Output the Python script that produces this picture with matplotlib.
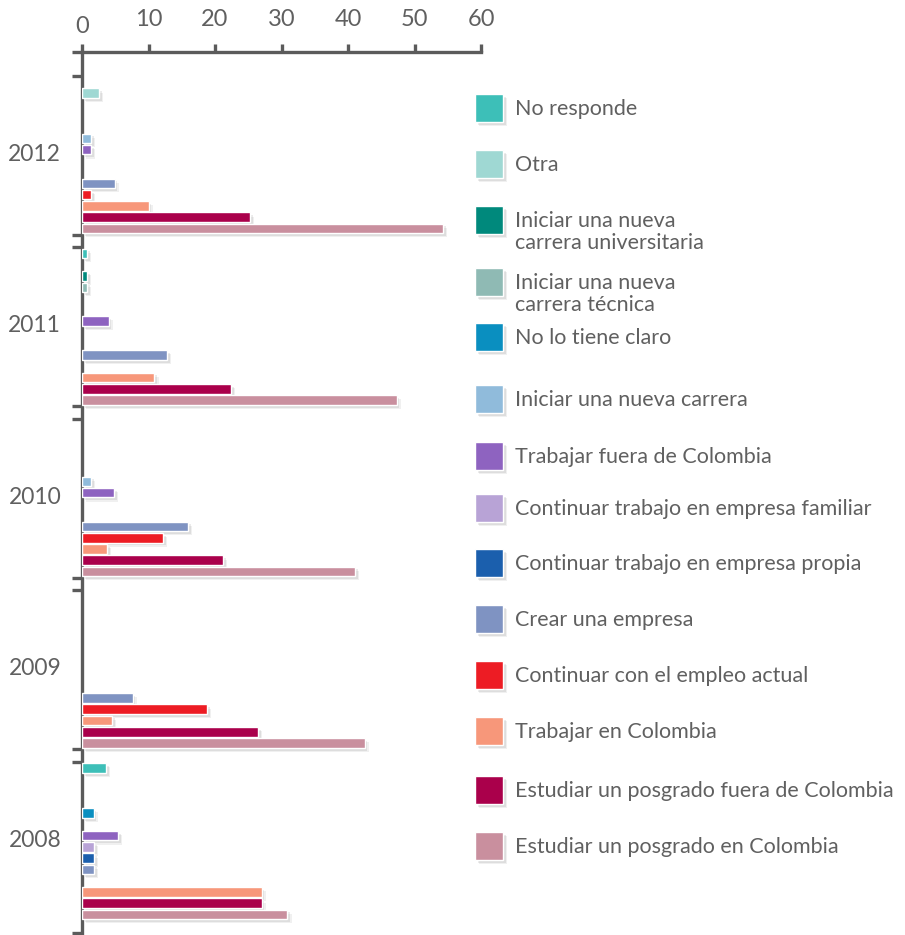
import numpy as np
import matplotlib
matplotlib.use('Agg')
import matplotlib.pyplot as plt
import matplotlib.patheffects as pe
from matplotlib.patches import Rectangle
from matplotlib.transforms import ScaledTranslation

plt.rcParams['font.family'] = ['Lato', 'DejaVu Sans']

# response categories, top to bottom inside each year block
categories = [
    'No responde',
    'Otra',
    'Iniciar una nueva\ncarrera universitaria',
    'Iniciar una nueva\ncarrera técnica',
    'No lo tiene claro',
    'Iniciar una nueva carrera',
    'Trabajar fuera de Colombia',
    'Continuar trabajo en empresa familiar',
    'Continuar trabajo en empresa propia',
    'Crear una empresa',
    'Continuar con el empleo actual',
    'Trabajar en Colombia',
    'Estudiar un posgrado fuera de Colombia',
    'Estudiar un posgrado en Colombia',
]
colors = ['#3dbfb8', '#9fd8d3', '#00897c', '#8fbab4', '#0a8fc0', '#90bbdb',
          '#8e63c0', '#b8a3d6', '#1b5fad', '#7f93c2', '#ed1c24', '#f7977a',
          '#aa004b', '#c98f9e']

years = ['2012', '2011', '2010', '2009', '2008']
v2012 = [0, 2.6, 0, 0, 0, 1.4, 1.4, 0, 0, 4.9, 1.4, 10.0, 25.3, 54.3]
v2011 = [0.8, 0, 0.8, 0.8, 0, 0, 4.0, 0, 0, 12.8, 0, 10.9, 22.4, 47.3]
v2010 = [0, 0, 0, 0, 0, 1.4, 4.8, 0, 0, 15.9, 12.2, 3.8, 21.2, 41.1]
v2009 = [0, 0, 0, 0, 0, 0, 0, 0, 0, 7.6, 18.8, 4.5, 26.5, 42.5]
v2008 = [3.6, 0, 0, 0, 1.75, 0, 5.4, 1.85, 1.85, 1.85, 0, 27.0, 27.0, 30.9]
values = [v2012, v2011, v2010, v2009, v2008]

W, H = 905, 935
grey = '#5b5b5b'
txt = '#606060'

fig = plt.figure(figsize=(W / 100, H / 100), dpi=100)
# axes laid out in pixel units so the vertical scale is easy to reason about
top_px, bot_px, left_px, right_px = 52, 933, 82, 481
ax = fig.add_axes([left_px / W, 1 - bot_px / H, (right_px - left_px) / W, (bot_px - top_px) / H])
ax.set_xlim(0, 60)
ax.set_ylim(bot_px, top_px)

first_bar = 82
slot = 11.27
block = 171.5
bar_h = 9.6

shadow = [pe.SimplePatchShadow(offset=(3, -3), shadow_rgbFace='#000000', alpha=0.06),
          pe.SimplePatchShadow(offset=(2, -2), shadow_rgbFace='#000000', alpha=0.08),
          pe.Normal()]

edges, centres = [], []
for g, vals in enumerate(values):
    y0 = first_bar + g * block
    for k, v in enumerate(vals):
        if v <= 0:
            continue
        ax.barh(y0 + k * slot, v, height=bar_h, color=colors[k], edgecolor='white',
                linewidth=1.0, path_effects=shadow, zorder=3)
    edges += [y0 - slot / 2 - 0.6, y0 + 13 * slot + slot / 2 + 0.6]
    centres.append(y0 + 6.5 * slot - 3)
edges[-1] = bot_px
edges = [top_px] + edges

for s in ['right', 'bottom']:
    ax.spines[s].set_visible(False)
for s in ['left', 'top']:
    ax.spines[s].set_color(grey)
    ax.spines[s].set_linewidth(2.4)

ax.xaxis.tick_top()
ax.set_xticks(np.arange(0, 61, 10))
ax.tick_params(axis='x', length=6, width=2.4, color=grey, pad=10,
               labelsize=17, labelcolor=txt)
# the zero label sits a little lower than the rest
lab0 = ax.get_xticklabels()[0]
lab0.set_transform(lab0.get_transform() + ScaledTranslation(0, -5 / 72, fig.dpi_scale_trans))

ax.set_yticks(edges)
ax.set_yticklabels([])
ax.tick_params(axis='y', which='major', length=7, width=2.4, color=grey)
ax.set_yticks(centres, minor=True)
ax.set_yticklabels(years, minor=True)
ax.tick_params(axis='y', which='minor', length=0, pad=15, labelsize=16.5, labelcolor=txt)

# legend drawn as a column of squares with labels (centre heights in px from top)
sq = 28
leg_y = [108, 164, 220, 282, 337, 399, 456, 508, 563, 619, 675, 731, 790, 846]
for cy, lab, c in zip(leg_y, categories, colors):
    r = Rectangle((475 / W, 1 - (cy + sq / 2) / H), sq / W, sq / H, transform=fig.transFigure,
                  facecolor=c, edgecolor='white', linewidth=1.0,
                  path_effects=shadow)
    fig.patches.append(r)
    fig.text(515 / W, 1 - (cy - 9) / H, lab, ha='left', va='top', fontsize=15.5,
             color=txt, linespacing=1.1)

fig.savefig('out.png', dpi=100)
